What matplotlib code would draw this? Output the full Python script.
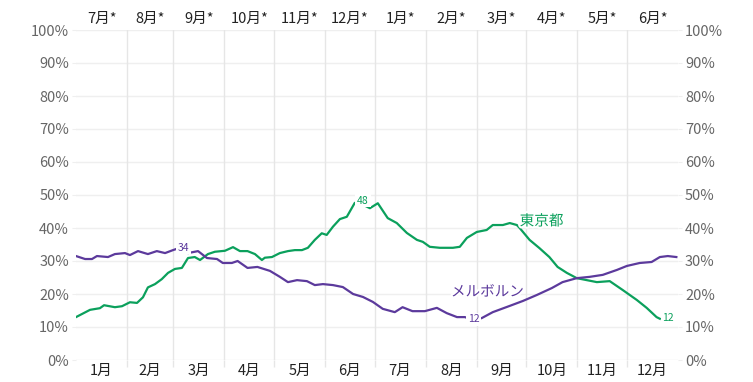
import numpy as np
import matplotlib
matplotlib.use('Agg')
import matplotlib.pyplot as plt
import matplotlib.patheffects as pe

plt.rcParams['font.family'] = ['Noto Sans CJK JP', 'DejaVu Sans']

# day of year (0 = Jan 1) and share in %
tokyo_days = [0, 8.5, 14.5, 17, 23.6, 27.9, 32.7, 37, 40.6, 43.6, 47.9, 52, 55.8, 60, 64.2,
              67.9, 72, 75.2, 80, 84.2, 90.3, 95.2, 99.4, 104, 108.5, 112.7, 114.5, 118.8,
              123.6, 128.5, 132.7, 137, 140.6, 144.8, 149, 152, 155.8, 160, 164.2, 169, 172,
              175, 178.2, 183, 189, 194.5, 200.6, 206.7, 210.3, 214.5, 220.6, 228.5, 232.7,
              237, 243, 249, 252.7, 258.8, 263, 267.3, 269, 275, 281, 287, 292, 297.6, 301,
              303.6, 315.8, 323.6, 331.5, 340, 346, 352, 354]
tokyo_vals = [13.0, 15.2, 15.7, 16.6, 16.0, 16.3, 17.5, 17.3, 19.0, 22.0, 23.0, 24.5, 26.4,
              27.6, 27.9, 30.9, 31.2, 30.3, 32.1, 32.8, 33.1, 34.2, 33.0, 33.0, 32.1, 30.3,
              31.0, 31.2, 32.4, 33.0, 33.3, 33.3, 34.0, 36.4, 38.4, 37.9, 40.4, 42.7, 43.4,
              47.6, 48.0, 46.8, 46.0, 47.5, 43.0, 41.5, 38.5, 36.4, 35.8, 34.3, 34.0, 34.0,
              34.3, 37.0, 38.8, 39.4, 40.9, 40.9, 41.5, 40.9, 40.0, 36.4, 33.9, 31.2, 28.2,
              26.4, 25.5, 24.8, 23.6, 23.9, 21.2, 18.2, 15.8, 13.0, 12.5]

melb_days = [0, 5.5, 9.7, 12.7, 19.4, 23.6, 29.7, 32.7, 37.6, 43.6, 49, 54, 58.8, 63, 67.9,
             74, 79.4, 85.5, 89, 94.5, 98, 104, 110, 117.6, 123.6, 128.5, 134, 140, 144.8,
             149.7, 155.8, 161.8, 168, 174, 180, 186, 193.3, 198, 204, 211.5, 218.8, 224.8,
             231, 235.8, 241, 246, 252.7, 263, 271, 279.4, 288.5, 295, 303.6, 311.5, 319.4,
             328, 334, 341.8, 349, 354, 358.8, 364]
melb_vals = [31.5, 30.6, 30.6, 31.5, 31.2, 32.1, 32.4, 31.8, 33.0, 32.1, 33.0, 32.4, 33.3,
             34.0, 32.4, 33.0, 30.9, 30.6, 29.4, 29.4, 30.0, 27.9, 28.2, 27.0, 25.2, 23.6,
             24.2, 23.9, 22.7, 23.0, 22.7, 22.1, 20.0, 19.1, 17.6, 15.5, 14.5, 16.0, 14.8,
             14.8, 15.8, 14.2, 13.0, 13.0, 12.0, 12.7, 14.5, 16.4, 17.9, 19.7, 21.8, 23.6,
             24.8, 25.2, 25.8, 27.3, 28.5, 29.4, 29.7, 31.2, 31.5, 31.2]

month_len = [31, 28, 31, 30, 31, 30, 31, 31, 30, 31, 30, 31]
bottom_labels = ['1月', '2月', '3月', '4月', '5月', '6月', '7月', '8月', '9月', '10月', '11月', '12月']
top_labels = ['7月*', '8月*', '9月*', '10月*', '11月*', '12月*', '1月*', '2月*', '3月*', '4月*', '5月*', '6月*']
y_ticks = list(range(0, 101, 10))

green = '#0ba05c'
purple = '#5c3a9c'
grid_c = '#e6e6e6'

month_starts = np.cumsum([0] + month_len)
month_mids = (month_starts[:-1] + month_starts[1:]) / 2

fig = plt.figure(figsize=(7.53, 3.82), dpi=100)
ax = fig.add_axes([76 / 753, 22 / 382, 602 / 753, 330 / 382])
ax.set_xlim(0, 365)
ax.set_ylim(0, 100)

for s in ax.spines.values():
    s.set_visible(False)

# grid
for y in y_ticks:
    ax.axhline(y, color='#efefef', lw=1.0, zorder=0)
for m in month_starts[1:-1]:
    ax.axvline(m, color=grid_c, lw=1.0, zorder=0)

ax.set_yticks(y_ticks)
ax.set_yticklabels([f'{v}%' for v in y_ticks])
ax.tick_params(axis='y', which='both', left=True, right=True, labelleft=True,
               labelright=True, length=3, color='#efefef', labelcolor='#666666',
               labelsize=10.5, pad=2)

ax.set_xticks(month_starts[1:-1])
ax.set_xticklabels([])
ax.set_xticks(month_mids, minor=True)
ax.set_xticklabels(bottom_labels, minor=True)
ax.tick_params(axis='x', which='major', length=5, color=grid_c, width=1.0)
ax.tick_params(axis='x', which='minor', length=0, labelsize=10.5, labelcolor='#222222', pad=3)

ax2 = ax.twiny()
ax2.set_xlim(ax.get_xlim())
for s in ax2.spines.values():
    s.set_visible(False)
ax2.set_xticks([])
ax2.set_xticks(month_mids, minor=True)
ax2.set_xticklabels(top_labels, minor=True)
ax2.tick_params(axis='x', which='minor', length=0, labelsize=10.5, labelcolor='#222222', pad=3)

ax.plot(tokyo_days, tokyo_vals, color=green, lw=1.6, zorder=3, solid_joinstyle='round')
ax.plot(melb_days, melb_vals, color=purple, lw=1.6, zorder=3, solid_joinstyle='round')

box = dict(facecolor='white', edgecolor='none', pad=1.2)
ax.text(174, 48.3, '48', color=green, fontsize=7.5, ha='center', va='center', bbox=box, zorder=5)
ax.text(65, 34, '34', color=purple, fontsize=7.5, ha='center', va='center', bbox=box, zorder=5)
ax.text(241, 12.3, '12', color=purple, fontsize=7.5, ha='center', va='center', bbox=box, zorder=5)
ax.text(359, 12.7, '12', color=green, fontsize=7.5, ha='center', va='center', bbox=box, zorder=5)

halo = [pe.withStroke(linewidth=3, foreground='white')]
ax.text(269, 42, '東京都', color=green, fontsize=10.5, ha='left', va='center',
        path_effects=halo, zorder=6)
ax.text(249.5, 20.6, 'メルボルン', color=purple, fontsize=10.5, ha='center', va='center',
        path_effects=halo, zorder=6)

fig.savefig('out.png', dpi=100)
